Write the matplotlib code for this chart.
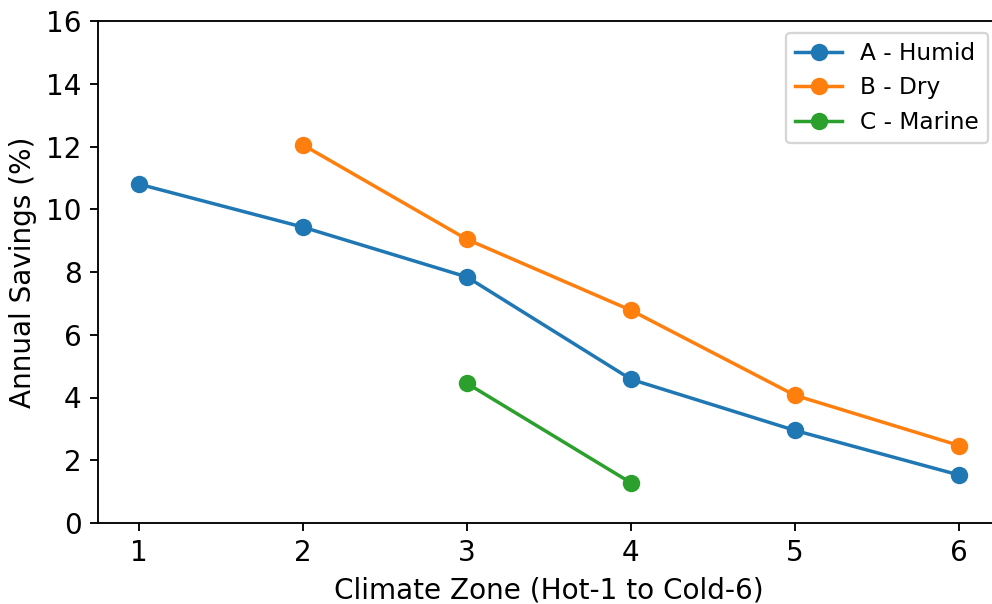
import numpy as np
import matplotlib.pyplot as plt

zones_a = [1, 2, 3, 4, 5, 6]
savings_a = [10.8, 9.43, 7.84, 4.58, 2.95, 1.53]

zones_b = [2, 3, 4, 5, 6]
savings_b = [12.05, 9.04, 6.78, 4.07, 2.47]

zones_c = [3, 4]
savings_c = [4.45, 1.28]

DPI = 167
fig = plt.figure(figsize=(992/DPI, 604/DPI), dpi=DPI)
ax = fig.add_axes([98/992, 81/604, 902/992, 502/604])

ax.plot(zones_a, savings_a, "-o", color="#1f77b4", lw=1.5, ms=6.5, label="A - Humid")
ax.plot(zones_b, savings_b, "-o", color="#ff7f0e", lw=1.5, ms=6.5, label="B - Dry")
ax.plot(zones_c, savings_c, "-o", color="#2ca02c", lw=1.5, ms=6.5, label="C - Marine")

ax.set_xlim(0.75, 6.25)
ax.set_ylim(0, 16)
ax.set_xticks(zones_a)
ax.set_yticks(np.arange(0, 17, 2))

ax.set_xlabel("Climate Zone (Hot-1 to Cold-6)", fontsize=12)
ax.set_ylabel("Annual Savings (%)", fontsize=12)
ax.tick_params(labelsize=12)

ax.legend(fontsize=10, loc="upper right")

fig.savefig("out.png", dpi=DPI)
